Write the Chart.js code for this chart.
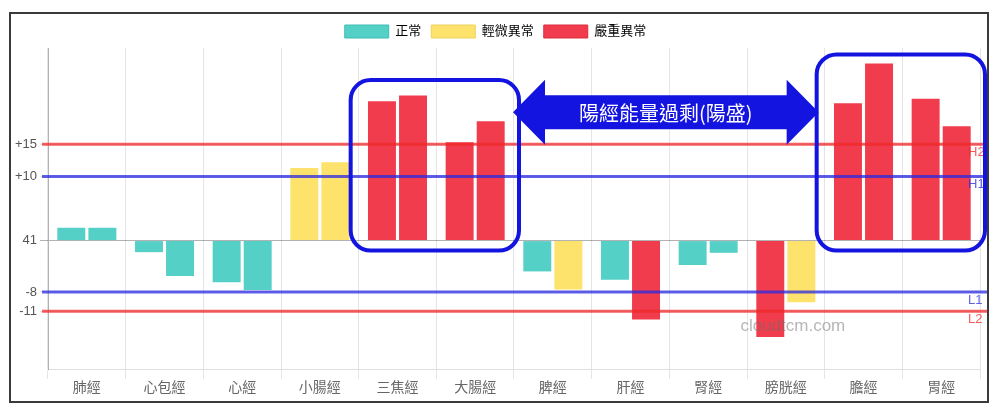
<!DOCTYPE html>
<html>
<head>
<meta charset="utf-8">
<title>經絡能量</title>
<script src="https://cdn.jsdelivr.net/npm/chart.js@4.4.0/dist/chart.umd.min.js"></script>
<style>
  html, body { margin: 0; padding: 0; background: #fff; }
  #frame { position: absolute; left: 9px; top: 12px; width: 976px; height: 387px; border: 2px solid #3a3a3a; }
  canvas { display: block; }
</style>
</head>
<body>
<div id="frame"><canvas id="meridianChart" width="976" height="387"></canvas></div>
<script>
// 經絡 (左 / 右) 與平均值 41 的差距
const meridians = ['肺經', '心包經', '心經', '小腸經', '三焦經', '大腸經', '脾經', '肝經', '腎經', '膀胱經', '膽經', '胃經'];
const leftValues  = [2.0, -1.8, -6.5, 11.3, 21.7, 15.3, -4.8, -6.1, -3.8, -15.0, 21.4, 22.1];
const rightValues = [2.0, -5.5, -7.7, 12.2, 22.6, 18.6, -7.6, -12.3, -1.9, -9.6, 27.6, 17.8];
// 0 = 正常, 1 = 輕微異常, 2 = 嚴重異常
const leftStatus  = [0, 0, 0, 1, 2, 2, 0, 0, 0, 2, 2, 2];
const rightStatus = [0, 0, 0, 1, 2, 2, 1, 2, 0, 1, 2, 2];
const statusNames = ['正常', '輕微異常', '嚴重異常'];
const statusColors = ['#55d0c6', '#fde36c', '#f03c4c'];
const statusBorders = ['#3fbdb2', '#ecd25c', '#d92f3f'];

const yTickValues = [15, 10, 0, -8, -11];
const yTickLabels = ['+15', '+10', '41', '-8', '-11'];

const thresholdValues = [15, 10, -8, -11];
const thresholdNames = ['H2', 'H1', 'L1', 'L2'];
const thresholdColors = ['rgba(240,40,40,0.75)', 'rgba(40,40,225,0.75)', 'rgba(40,40,225,0.75)', 'rgba(240,40,40,0.75)'];

// 框起來的陽經 (category index from / to, top value)
const highlightFrom = [4, 10];
const highlightTo = [5, 11];
const highlightTop = [25, 29];
const arrowValue = 20;
const arrowText = '陽經能量過剩(陽盛)';
const watermark = 'cloudtcm.com';

const BLUE = '#1414e0';

Chart.defaults.font.family = "'Liberation Sans', 'Noto Sans CJK TC', sans-serif";

const overlayPlugin = {
    id: 'overlay',
    afterDatasetsDraw(chart) {
        const { ctx, chartArea, scales: { x, y } } = chart;
        ctx.save();

        // H2 / H1 / L1 / L2 lines
        thresholdValues.forEach((v, i) => {
            const py = y.getPixelForValue(v);
            ctx.strokeStyle = thresholdColors[i];
            ctx.lineWidth = 3;
            ctx.beginPath();
            ctx.moveTo(chartArea.left - 6, py);
            ctx.lineTo(chart.width, py);
            ctx.stroke();
            ctx.fillStyle = thresholdColors[i];
            ctx.font = "13px 'Liberation Sans'";
            ctx.textAlign = 'left';
            ctx.textBaseline = 'top';
            ctx.fillText(thresholdNames[i], chartArea.right - 12, py + 2);
        });

        // watermark
        ctx.fillStyle = 'rgba(110,110,110,0.5)';
        ctx.font = "17px 'Liberation Sans'";
        ctx.textAlign = 'center';
        ctx.textBaseline = 'middle';
        ctx.fillText(watermark, x.getPixelForValue(9) + 7, y.getPixelForValue(-13.3));

        // rounded boxes
        const cw = (x.right - x.left) / meridians.length;
        const boxes = highlightFrom.map((f, i) => ({
            left: x.getPixelForValue(f) - cw / 2 - 8,
            right: x.getPixelForValue(highlightTo[i]) + cw / 2 + 5,
            top: y.getPixelForValue(highlightTop[i]),
            bottom: y.getPixelForValue(0) + 10
        }));
        ctx.strokeStyle = BLUE;
        ctx.lineWidth = 4;
        boxes.forEach(b => {
            ctx.beginPath();
            ctx.roundRect(b.left, b.top, b.right - b.left, b.bottom - b.top, 20);
            ctx.stroke();
        });

        // double arrow between the boxes
        const x1 = boxes[0].right - 6, x2 = boxes[1].left + 2;
        const yc = y.getPixelForValue(arrowValue);
        const hl = 32, hh = 32.5, sh = 17;
        ctx.fillStyle = BLUE;
        ctx.beginPath();
        ctx.moveTo(x1, yc);
        ctx.lineTo(x1 + hl, yc - hh);
        ctx.lineTo(x1 + hl, yc - sh);
        ctx.lineTo(x2 - hl, yc - sh);
        ctx.lineTo(x2 - hl, yc - hh);
        ctx.lineTo(x2, yc);
        ctx.lineTo(x2 - hl, yc + hh);
        ctx.lineTo(x2 - hl, yc + sh);
        ctx.lineTo(x1 + hl, yc + sh);
        ctx.lineTo(x1 + hl, yc + hh);
        ctx.closePath();
        ctx.fill();
        ctx.fillStyle = '#fff';
        ctx.font = "20px 'Noto Sans CJK TC'";
        ctx.textAlign = 'center';
        ctx.textBaseline = 'middle';
        ctx.fillText(arrowText, (x1 + x2) / 2, yc + 1);

        ctx.restore();
    }
};

new Chart(document.getElementById('meridianChart'), {
    type: 'bar',
    data: {
        labels: meridians,
        datasets: [
            {
                label: '左',
                data: leftValues,
                backgroundColor: leftStatus.map(s => statusColors[s]),
                borderColor: leftStatus.map(s => statusBorders[s]),
                borderWidth: 0
            },
            {
                label: '右',
                data: rightValues,
                backgroundColor: rightStatus.map(s => statusColors[s]),
                borderColor: rightStatus.map(s => statusBorders[s]),
                borderWidth: 0
            }
        ]
    },
    options: {
        responsive: false,
        animation: false,
        layout: { padding: { top: 1, right: 7, bottom: 0, left: 0 } },
        plugins: {
            legend: {
                labels: {
                    boxWidth: 44,
                    boxHeight: 13,
                    padding: 10,
                    color: '#666',
                    font: { size: 13 },
                    generateLabels: () => statusNames.map((n, i) => ({
                        text: n,
                        fillStyle: statusColors[i],
                        strokeStyle: statusBorders[i],
                        lineWidth: 1,
                        hidden: false,
                        datasetIndex: 0
                    }))
                }
            },
            tooltip: { enabled: false }
        },
        scales: {
            x: {
                grid: { color: 'rgba(0,0,0,0.1)', tickLength: 10 },
                border: { color: 'rgba(0,0,0,0.12)' },
                ticks: { color: '#666', font: { size: 14 }, padding: 1, maxRotation: 0 },
                afterFit: s => { s.height = 32; }
            },
            y: {
                min: -20,
                max: 30,
                afterBuildTicks: s => { s.ticks = yTickValues.map(v => ({ value: v })); },
                ticks: { callback: (v, i) => yTickLabels[i], color: '#555', font: { size: 13 }, padding: 3 },
                grid: {
                    color: c => (c.tick && c.tick.value === 0) ? 'rgba(0,0,0,0.3)' : 'rgba(0,0,0,0.1)',
                    tickLength: 8
                },
                border: { color: 'rgba(0,0,0,0.3)' },
                afterFit: s => { s.width = 37; }
            }
        }
    },
    plugins: [overlayPlugin]
});
</script>
</body>
</html>
